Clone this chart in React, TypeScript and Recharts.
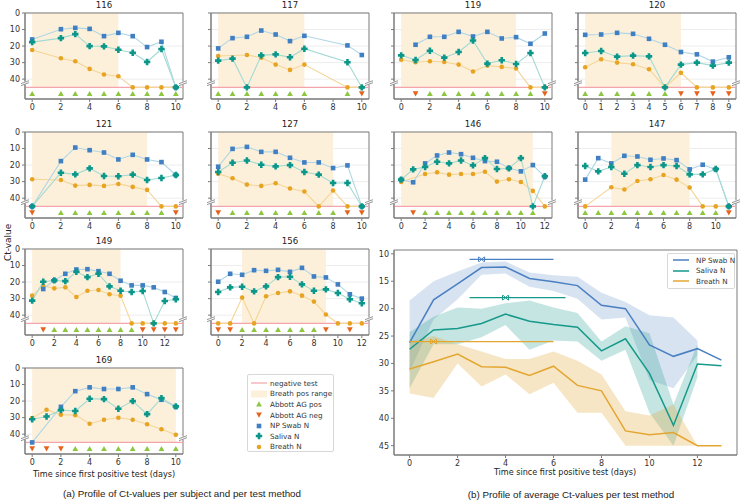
import React from 'react';
import {
  ComposedChart, Line, Area, Scatter, XAxis, YAxis, CartesianGrid,
  ReferenceArea, ReferenceLine, ReferenceDot,
} from 'recharts';

// ---- colours ----
const C_NP = '#3f7fc2';
const C_SAL = '#0b968a';
const C_BR = '#e7a322';
const L_NP = '#b0d6e6';
const L_SAL = '#a3dad3';
const L_BR = '#f4d596';
const C_POS = '#8dc63f';
const C_NEG = '#e5631c';
const NEG_LINE = '#f4a5ab';
const SHADE = '#fdf0da';
const SPINE = '#7a7a7a';
const FONT = '"DejaVu Sans", sans-serif';
const CAPTION_FONT = '"Liberation Sans", Arial, sans-serif';

const AG_Y = 48.8; // Abbott markers row
const NEG_CT = 45;

// ---- per subject data (day, NP swab, saliva, breath, Abbott pos/neg, breath pos range) ----
const DAYS_116 = [0, 2, 3, 4, 5, 6, 7, 8, 9, 10];
const NP_116 = [16, 9.8, 9, 9.6, 14, 12, 14, 20.6, 17.4, 45];
const SAL_116 = [17.6, 15.2, 12.8, 20, 20.2, 22.2, 24, 29.6, 21.8, 45];
const BR_116 = [22.4, 27.4, 29.2, 33.8, 37.2, 38.2, 45, 45, 45, 45];
const POS_116 = [0, 2, 3, 4, 5, 6, 7, 8, 9, 10];
const NEG_116: number[] = [];
const RANGE_116 = [0, 6];

const DAYS_117 = [0, 1, 2, 3, 4, 5, 6, 9, 10];
const NP_117 = [21.4, 15.2, 14.4, 10.6, 13, 17, 13.8, 19.6, 25.4];
const SAL_117 = [28.8, 27.6, 45, 25.6, 25, 26.8, 21.6, 29.8, 45];
const BR_117 = [26, null, 25.4, 27, 31.2, 34.4, 31.2, 45, 45];
const POS_117 = [0, 1, 2, 3, 4, 5, 6, 9];
const NEG_117 = [10];
const RANGE_117 = [0, 6];

const DAYS_119 = [0, 1, 2, 3, 4, 5, 6, 7, 8, 9, 10];
const NP_119 = [null, 19.2, 14.4, 14.4, 11.4, 14.2, 11.4, 15.4, 14.6, 18.6, 12.4];
const SAL_119 = [25.6, 28.4, 22.8, 27, 23.6, 16.6, 30.6, 28.6, 30.8, 24.2, 45];
const BR_119 = [28.2, 29.8, 29.2, 29.6, 31.2, 35.4, 31.8, 32.6, 33.6, 45, 45];
const POS_119 = [2, 3, 4, 5, 6, 7, 8, 9];
const NEG_119 = [1, 10];
const RANGE_119 = [0, 8];

const DAYS_120 = [0, 1, 2, 3, 4, 5, 6, 7, 8, 9];
const NP_120 = [13.2, 13, 12, 12.6, 15.6, 19.2, 23.6, 25, 29.4, 26.8];
const SAL_120 = [24.2, 23, 26.4, 25.8, 26.2, 45, 31.2, 30, 31.8, 30];
const BR_120 = [32.8, 28, 30, 31, 34, 45, 36.2, 45, 45, 45];
const POS_120 = [0, 1, 2, 3, 4, 5];
const NEG_120 = [6, 7, 8, 9];
const RANGE_120 = [0, 6];

const DAYS_121 = [0, 2, 3, 4, 5, 6, 7, 8, 9, 10];
const NP_121 = [45, 17.6, 9.4, 11, 12.4, 16.6, 13.8, 16.6, 18.2, 26];
const SAL_121 = [45, 24.6, 25.6, 22, 26.6, 26.8, 25.8, 29, 27.8, 26];
const BR_121 = [28.6, 29, 32.4, 32, 32.6, 31.4, 33.2, 35, 45, 45];
const POS_121 = [2, 3, 4, 5, 6, 7, 8, 9];
const NEG_121 = [0, 10];
const RANGE_121 = [0, 8];

const DAYS_127 = [0, 1, 2, 3, 4, 5, 6, 7, 8, 9, 10];
const NP_127 = [21, 10.2, 9, 12, 12, 15.6, 18.4, 18.4, 21.8, 20.2, 45];
const SAL_127 = [24.2, 18.6, 17.2, 19.8, 20.8, 20, 24.2, 25.8, 30.8, 30.8, 45];
const BR_127 = [25.2, 28, 31.8, 32.6, 31, 34.2, 36, 45, 35.4, 45, 45];
const POS_127 = [1, 2, 3, 4, 5, 6, 7, 8];
const NEG_127 = [0, 9, 10];
const RANGE_127 = [0, 8];

const DAYS_146 = [0, 1, 2, 3, 4, 5, 6, 7, 8, 9, 10, 11, 12];
const NP_146 = [28.8, 30.4, 19, 14.2, 12.4, 13.4, 15.6, 17.6, 18, 21.8, 23.8, 20, 27];
const SAL_146 = [28.8, 22.6, 21.2, 18, 19, 17.2, 20.2, 15.8, 22.4, 22, 15.8, 45, 26.8];
const BR_146 = [30.2, null, 25.4, 24.4, 25.8, 25.4, 25.4, 24, 30, 28.6, 30.2, 35.6, 45];
const POS_146 = [2, 3, 4, 5, 6, 7, 8, 9, 10, 11];
const NEG_146 = [1];
const RANGE_146 = [0, 11];

const DAYS_147 = [0, 1, 2, 3, 4, 5, 6, 7, 8, 9, 10, 11];
const NP_147 = [28.8, 15.8, 19, 14.4, 14.8, 16.8, 16, 17, 22.6, 19.8, 22.6, 45];
const SAL_147 = [20.6, 23.8, 21.2, 25.2, 20, 21.2, 20, 20.6, 25.6, 25.6, 22.4, 45];
const BR_147 = [45, null, 33.4, 34.8, 29.6, 28.6, 26, 28.8, 33.6, 45, 45, 45];
const POS_147 = [0, 1, 2, 3, 4, 5, 6, 7, 8, 9, 10];
const NEG_147 = [11];
const RANGE_147 = [2, 8];

const DAYS_149 = [0, 1, 2, 3, 4, 5, 6, 7, 8, 9, 10, 11, 12, 13];
const NP_149 = [null, 24.2, 19, 15, 12.4, 12.2, 13.4, 15, 19.2, 22, 22, 23.2, 26, 29.6];
const SAL_149 = [31.2, 19.8, 19, 19.4, 13.8, 17, 15, 22.6, 25.2, 26, 25.4, 45, 31.4, 30.4];
const BR_149 = [28.2, 22.2, 23.8, 23.2, 29, 25.2, 24.8, 27.4, 28.2, 45, 45, 45, 45, 45];
const POS_149 = [2, 3, 4, 5, 6, 7, 8, 9];
const NEG_149 = [1, 10, 11, 12, 13];
const RANGE_149 = [0, 8];

const DAYS_156 = [0, 1, 2, 3, 4, 5, 6, 7, 8, 9, 10, 11, 12];
const NP_156 = [19.8, 15, 15.6, 12.8, 13.2, 12.6, 13.8, 11.4, 16.6, 17.2, 21.4, 27.4, 30];
const SAL_156 = [26, 23.2, 22.8, 25.6, 22.6, 17, 16.8, 21.4, 25.2, 24.4, 26.6, 30.4, 32.8];
const BR_156 = [45, 45, 29.4, 45, 28.6, 26.6, 25.6, 28.2, 31.8, 39.6, 45, 45, 45];
const POS_156 = [2, 3, 4, 5, 6, 7, 8];
const NEG_156 = [0, 1, 9, 11];
const RANGE_156 = [2, 9];

const DAYS_169 = [0, 1, 2, 3, 4, 5, 6, 7, 8, 9, 10];
const NP_169 = [45, null, 23.5, 14, 11.7, 12.7, 12.7, 11.7, 15.8, 19.2, 23.5];
const SAL_169 = [31, 29.3, 25.5, 26, 18.6, 18.8, 24.6, 20, 27.9, 18.2, 23.2];
const BR_169 = [30.3, 25.2, 28.2, 28.5, 33.7, 31.3, 30.1, 31.3, 34, 37, 40.4];
const POS_169 = [3, 4, 5, 6, 7, 8, 9, 10];
const NEG_169 = [0, 1, 2];
const RANGE_169 = [0, 10];

// ---- averages (b) ----
const AVG_DAYS = [0, 1, 2, 3, 4, 5, 6, 7, 8, 9, 10, 11, 12, 13];
const NP_MEAN = [26.2, 18.4, 15.5, 12.5, 12.4, 14.5, 15.1, 15.8, 19.4, 20.0, 26.6, 28.7, 27.3, 29.4];
const NP_LO = [18.5, 15, 13.2, 11.6, 11.4, 13.4, 13.9, 14.2, 17.1, 18.8, 21.2, 21.6, 25.8, null];
const NP_HI = [31.5, 22, 18.3, 13.8, 13.6, 16, 16.8, 18.2, 22, 21.6, 33, 34.5, 28.5, null];
const SAL_MEAN = [27.4, 23.9, 23.6, 22.7, 21.0, 22.3, 22.9, 23.4, 27.7, 25.5, 31.8, 41.3, 30.1, 30.4];
const SAL_LO = [24.3, 21.5, 19.8, 20, 19, 18.5, 19.8, 20.8, 26, 23.2, 24.5, 37.5, 26.5, null];
const SAL_HI = [34.5, 26.5, 26.5, 25.2, 23, 27.5, 25.8, 26, 29.5, 27.5, 39, 45, 32.5, null];
const BR_MEAN = [31, 29.7, 28.3, 30.6, 30.7, 32.2, 30.5, 34, 35, 42.3, 43, 42.6, 45, 45];
const BR_LO = [26, 25, 26.5, 27.8, 29.2, 29.2, 27.8, 29.5, 32, 38.7, 39.5, 37.5, 45, null];
const BR_HI = [35.5, 36.3, 30, 34.2, 32, 35.6, 33.5, 39, 39, 45, 45, 45, 45, null];
// range bars: [start day, end day], peak [day, ct]
const NP_SPAN = [2.5, 6];
const NP_PEAK = [3, 11];
const SAL_SPAN = [2.5, 6.5];
const SAL_PEAK = [4, 18];
const BR_SPAN = [0, 6];
const BR_PEAK = [1, 26];

type Subject = {
  id: string; days: number[]; np: (number | null)[]; sal: (number | null)[]; br: (number | null)[];
  pos: number[]; neg: number[]; range: number[]; step: number; col: number; row: number;
};

const SUBJECTS: Subject[] = [
  { id: '116', days: DAYS_116, np: NP_116, sal: SAL_116, br: BR_116, pos: POS_116, neg: NEG_116, range: RANGE_116, step: 2, col: 0, row: 0 },
  { id: '117', days: DAYS_117, np: NP_117, sal: SAL_117, br: BR_117, pos: POS_117, neg: NEG_117, range: RANGE_117, step: 2, col: 1, row: 0 },
  { id: '119', days: DAYS_119, np: NP_119, sal: SAL_119, br: BR_119, pos: POS_119, neg: NEG_119, range: RANGE_119, step: 2, col: 2, row: 0 },
  { id: '120', days: DAYS_120, np: NP_120, sal: SAL_120, br: BR_120, pos: POS_120, neg: NEG_120, range: RANGE_120, step: 1, col: 3, row: 0 },
  { id: '121', days: DAYS_121, np: NP_121, sal: SAL_121, br: BR_121, pos: POS_121, neg: NEG_121, range: RANGE_121, step: 2, col: 0, row: 1 },
  { id: '127', days: DAYS_127, np: NP_127, sal: SAL_127, br: BR_127, pos: POS_127, neg: NEG_127, range: RANGE_127, step: 2, col: 1, row: 1 },
  { id: '146', days: DAYS_146, np: NP_146, sal: SAL_146, br: BR_146, pos: POS_146, neg: NEG_146, range: RANGE_146, step: 2, col: 2, row: 1 },
  { id: '147', days: DAYS_147, np: NP_147, sal: SAL_147, br: BR_147, pos: POS_147, neg: NEG_147, range: RANGE_147, step: 2, col: 3, row: 1 },
  { id: '149', days: DAYS_149, np: NP_149, sal: SAL_149, br: BR_149, pos: POS_149, neg: NEG_149, range: RANGE_149, step: 2, col: 0, row: 2 },
  { id: '156', days: DAYS_156, np: NP_156, sal: SAL_156, br: BR_156, pos: POS_156, neg: NEG_156, range: RANGE_156, step: 2, col: 1, row: 2 },
  { id: '169', days: DAYS_169, np: NP_169, sal: SAL_169, br: BR_169, pos: POS_169, neg: NEG_169, range: RANGE_169, step: 2, col: 0, row: 3 },
];

// ---- layout ----
const COL_X = [25, 211, 394, 578];
const ROW_Y = [13, 132, 249, 368];
const PW = 158;
const PH = 86;
const YW = 22;
const XH = 18;
const MT = 7;
const MR = 4;

// ---- marker shapes ----
const plusPoints = (cx: number, cy: number, a: number, b: number) =>
  [
    [cx - b, cy - a], [cx + b, cy - a], [cx + b, cy - b], [cx + a, cy - b], [cx + a, cy + b], [cx + b, cy + b],
    [cx + b, cy + a], [cx - b, cy + a], [cx - b, cy + b], [cx - a, cy + b], [cx - a, cy - b], [cx - b, cy - b],
  ].map((p) => p.join(',')).join(' ');

const SquareDot = (p: any) =>
  p.cx == null || p.cy == null || p.value == null ? <g key={p.index} /> :
    <rect key={p.index} x={p.cx - 2.3} y={p.cy - 2.3} width={4.6} height={4.6} fill={C_NP} />;
const PlusDot = (p: any) =>
  p.cx == null || p.cy == null || p.value == null ? <g key={p.index} /> :
    <polygon key={p.index} points={plusPoints(p.cx, p.cy, 3.2, 1.3)} fill={C_SAL} />;
const CircleDot = (p: any) =>
  p.cx == null || p.cy == null || p.value == null ? <g key={p.index} /> :
    <circle key={p.index} cx={p.cx} cy={p.cy} r={2.3} fill={C_BR} />;
const TriUp = (p: any) => (
  <polygon points={`${p.cx - 2.9},${p.cy + 2.4} ${p.cx + 2.9},${p.cy + 2.4} ${p.cx},${p.cy - 2.7}`} fill={C_POS} />
);
const TriDown = (p: any) => (
  <polygon points={`${p.cx - 2.9},${p.cy - 2.4} ${p.cx + 2.9},${p.cy - 2.4} ${p.cx},${p.cy + 2.7}`} fill={C_NEG} />
);
const BreakMark = (p: any) => (
  <g stroke={SPINE} strokeWidth={0.8}>
    <rect x={p.cx - 1.5} y={p.cy - 1} width={3} height={3} fill="#fff" stroke="none" />
    <line x1={p.cx - 4} x2={p.cx + 4} y1={p.cy + 1.2} y2={p.cy - 1.8} />
    <line x1={p.cx - 4} x2={p.cx + 4} y1={p.cy + 3.2} y2={p.cy + 0.2} />
  </g>
);
const XMark = (color: string) => (p: any) => (
  <g stroke={color} strokeWidth={1}>
    <line x1={p.cx - 2.5} x2={p.cx + 2.5} y1={p.cy - 2.5} y2={p.cy + 2.5} />
    <line x1={p.cx - 2.5} x2={p.cx + 2.5} y1={p.cy + 2.5} y2={p.cy - 2.5} />
    <line x1={p.cx - 3} x2={p.cx - 3} y1={p.cy - 2.5} y2={p.cy + 2.5} />
    <line x1={p.cx + 3} x2={p.cx + 3} y1={p.cy - 2.5} y2={p.cy + 2.5} />
  </g>
);

const tickStyle = { fontSize: 8, fill: '#333' };

function Panel({ s }: { s: Subject }) {
  const plotL = COL_X[s.col];
  const plotT = ROW_Y[s.row];
  const last = s.days[s.days.length - 1];
  const pad = last * 0.05;
  const x0 = -pad;
  const x1 = last + pad;
  const ticks: number[] = [];
  for (let t = 0; t <= last; t += s.step) ticks.push(t);
  const data = s.days.map((d, i) => ({ day: d, np: s.np[i], sal: s.sal[i], br: s.br[i] }));
  const posPts = s.pos.map((d) => ({ day: d, ag: AG_Y }));
  const negPts = s.neg.map((d) => ({ day: d, ag: AG_Y }));
  const showY = s.col === 0;
  return (
    <div style={{ position: 'absolute', left: plotL - YW, top: plotT - MT }}>
      <div style={{ position: 'absolute', left: YW, width: PW, top: MT - 13, textAlign: 'center', fontSize: 8.6, color: '#222', lineHeight: '11px' }}>
        {s.id}
      </div>
      <ComposedChart width={YW + PW + MR} height={MT + PH + XH} data={data} margin={{ top: MT, right: MR, left: 0, bottom: 0 }}>
        <CartesianGrid vertical={false} stroke="#ededed" />
        <ReferenceArea x1={s.range[0]} x2={s.range[1]} y1={0} y2={NEG_CT} fill={SHADE} fillOpacity={1} stroke="none" ifOverflow="hidden" />
        <ReferenceLine y={NEG_CT} stroke={NEG_LINE} strokeWidth={1.2} />
        <XAxis type="number" dataKey="day" domain={[x0, x1]} ticks={ticks} interval={0} allowDataOverflow height={XH}
          tick={tickStyle} tickSize={3} stroke={SPINE} />
        <YAxis type="number" domain={[0, 52]} reversed allowDataOverflow ticks={[0, 10, 20, 30, 40]} width={YW}
          tick={tickStyle} tickSize={3} stroke={SPINE} tickFormatter={showY ? undefined : () => ''} />
        <ReferenceArea x1={x0} x2={x1} y1={0} y2={52} fill="none" stroke={SPINE} ifOverflow="visible" />
        <Line type="linear" dataKey="br" stroke={L_BR} strokeWidth={1.1} connectNulls dot={CircleDot} activeDot={false} isAnimationActive={false} />
        <Line type="linear" dataKey="np" stroke={L_NP} strokeWidth={1.1} connectNulls dot={SquareDot} activeDot={false} isAnimationActive={false} />
        <Line type="linear" dataKey="sal" stroke={L_SAL} strokeWidth={1.1} connectNulls dot={PlusDot} activeDot={false} isAnimationActive={false} />
        <Scatter data={posPts} dataKey="ag" shape={TriUp} isAnimationActive={false} />
        <Scatter data={negPts} dataKey="ag" shape={TriDown} isAnimationActive={false} />
        <ReferenceDot x={x0} y={42} r={0} shape={BreakMark} ifOverflow="visible" />
        <ReferenceDot x={x1} y={42} r={0} shape={BreakMark} ifOverflow="visible" />
      </ComposedChart>
    </div>
  );
}

// ---- average chart (b) ----
const B_L = 394;
const B_T = 250;
const B_W = 343;
const B_H = 205;
const B_YW = 24;

function AvgChart() {
  const data = AVG_DAYS.map((d, i) => ({
    day: d,
    np: NP_MEAN[i], sal: SAL_MEAN[i], br: BR_MEAN[i],
    npBand: NP_LO[i] == null ? null : [NP_LO[i], NP_HI[i]],
    salBand: SAL_LO[i] == null ? null : [SAL_LO[i], SAL_HI[i]],
    brBand: BR_LO[i] == null ? null : [BR_LO[i], BR_HI[i]],
  }));
  const x0 = -0.65;
  const x1 = 13.65;
  const y0 = 9.3;
  const y1 = 46.7;
  return (
    <div style={{ position: 'absolute', left: B_L - B_YW, top: B_T - MT }}>
      <ComposedChart width={B_YW + B_W + MR} height={MT + B_H + XH} data={data} margin={{ top: MT, right: MR, left: 0, bottom: 0 }}>
        <XAxis type="number" dataKey="day" domain={[x0, x1]} ticks={[0, 2, 4, 6, 8, 10, 12]} interval={0} allowDataOverflow height={XH}
          tick={tickStyle} tickSize={3} stroke={SPINE} />
        <YAxis type="number" domain={[y0, y1]} reversed allowDataOverflow ticks={[10, 15, 20, 25, 30, 35, 40, 45]} width={B_YW}
          tick={tickStyle} tickSize={3} stroke={SPINE} />
        <ReferenceArea x1={x0} x2={x1} y1={y0} y2={y1} fill="none" stroke={SPINE} ifOverflow="visible" />
        <Area type="linear" dataKey="npBand" fill="#4a7fc1" fillOpacity={0.22} stroke="none" legendType="none" activeDot={false} isAnimationActive={false} />
        <Area type="linear" dataKey="salBand" fill="#16998a" fillOpacity={0.25} stroke="none" legendType="none" activeDot={false} isAnimationActive={false} />
        <Area type="linear" dataKey="brBand" fill="#e3a630" fillOpacity={0.28} stroke="none" legendType="none" activeDot={false} isAnimationActive={false} />
        <Line type="linear" dataKey="np" stroke="#4a7fc1" strokeWidth={1.5} dot={false} activeDot={false} isAnimationActive={false} />
        <Line type="linear" dataKey="sal" stroke="#16998a" strokeWidth={1.5} dot={false} activeDot={false} isAnimationActive={false} />
        <Line type="linear" dataKey="br" stroke="#e3a630" strokeWidth={1.5} dot={false} activeDot={false} isAnimationActive={false} />
        <ReferenceLine segment={[{ x: NP_SPAN[0], y: NP_PEAK[1] }, { x: NP_SPAN[1], y: NP_PEAK[1] }]} stroke="#4a7fc1" strokeWidth={1.2} />
        <ReferenceLine segment={[{ x: SAL_SPAN[0], y: SAL_PEAK[1] }, { x: SAL_SPAN[1], y: SAL_PEAK[1] }]} stroke="#16998a" strokeWidth={1.2} />
        <ReferenceLine segment={[{ x: BR_SPAN[0], y: BR_PEAK[1] }, { x: BR_SPAN[1], y: BR_PEAK[1] }]} stroke="#e3a630" strokeWidth={1.2} />
        <ReferenceDot x={NP_PEAK[0]} y={NP_PEAK[1]} r={0} shape={XMark('#4a7fc1')} />
        <ReferenceDot x={SAL_PEAK[0]} y={SAL_PEAK[1]} r={0} shape={XMark('#16998a')} />
        <ReferenceDot x={BR_PEAK[0]} y={BR_PEAK[1]} r={0} shape={XMark('#e3a630')} />
      </ComposedChart>
    </div>
  );
}

function LegendA() {
  const row = (icon: React.ReactNode, label: string, i: number) => (
    <div key={label} style={{ position: 'absolute', left: 0, top: 3 + i * 10.6, height: 10.6, display: 'flex', alignItems: 'center', whiteSpace: 'nowrap' }}>
      <svg width={20} height={10} style={{ marginLeft: 1 }}>{icon}</svg>
      <span style={{ marginLeft: 1 }}>{label}</span>
    </div>
  );
  return (
    <div style={{ position: 'absolute', left: 247, top: 374, width: 85, height: 76, border: '1px solid #d8d8d8', borderRadius: 2, background: '#fff', fontSize: 7.2, color: '#333' }}>
      {row(<line x1={2} x2={18} y1={5} y2={5} stroke={NEG_LINE} strokeWidth={1.2} />, 'negative test', 0)}
      {row(<rect x={2} y={1.5} width={16} height={7} fill={SHADE} />, 'Breath pos range', 1)}
      {row(TriUp({ cx: 10, cy: 5 }), 'Abbott AG pos', 2)}
      {row(TriDown({ cx: 10, cy: 5 }), 'Abbott AG neg', 3)}
      {row(<rect x={7.7} y={2.7} width={4.6} height={4.6} fill={C_NP} />, 'NP Swab N', 4)}
      {row(<polygon points={plusPoints(10, 5, 3.2, 1.3)} fill={C_SAL} />, 'Saliva N', 5)}
      {row(<circle cx={10} cy={5} r={2.3} fill={C_BR} />, 'Breath N', 6)}
    </div>
  );
}

function LegendB() {
  const items = [
    { label: 'NP Swab N', color: '#4a7fc1' },
    { label: 'Saliva N', color: '#16998a' },
    { label: 'Breath N', color: '#e3a630' },
  ];
  return (
    <div style={{ position: 'absolute', left: 667, top: 253, width: 66, height: 34, border: '1px solid #d8d8d8', borderRadius: 2, background: '#fff', fontSize: 7.2, color: '#333' }}>
      {items.map((it, i) => (
        <div key={it.label} style={{ position: 'absolute', left: 0, top: 1 + i * 10.6, height: 10.6, display: 'flex', alignItems: 'center', whiteSpace: 'nowrap' }}>
          <svg width={24} height={10} style={{ marginLeft: 4 }}>
            <line x1={1} x2={17} y1={5} y2={5} stroke={it.color} strokeWidth={1.5} />
          </svg>
          <span>{it.label}</span>
        </div>
      ))}
    </div>
  );
}

const text = (s: string, cx: number, cy: number, size: number, family = FONT, rotate = false) => (
  <div style={{
    position: 'absolute', left: cx - 200, top: cy - size * 0.6, width: 400, textAlign: 'center', fontSize: size,
    lineHeight: `${size * 1.2}px`, fontFamily: family, color: '#222', whiteSpace: 'nowrap',
    transform: rotate ? 'rotate(-90deg)' : undefined,
  }}>{s}</div>
);

export default function App() {
  return (
    <div style={{ position: 'absolute', left: 0, top: 0, width: 745, height: 502, background: '#fff', fontFamily: FONT, overflow: 'hidden' }}>
      {SUBJECTS.map((s) => <Panel key={s.id} s={s} />)}
      <AvgChart />
      <LegendA />
      <LegendB />
      {text('Ct-value', 8, 242, 9, FONT, true)}
      {text('Time since first positive test (days)', 104, 475, 8.1)}
      {text('Time since first positive test (days)', 565, 473, 8.1)}
      {text('(a) Profile of Ct-values per subject and per test method', 182, 494, 9.8, CAPTION_FONT)}
      {text('(b) Profile of average Ct-values per test method', 571, 495, 9.8, CAPTION_FONT)}
    </div>
  );
}
